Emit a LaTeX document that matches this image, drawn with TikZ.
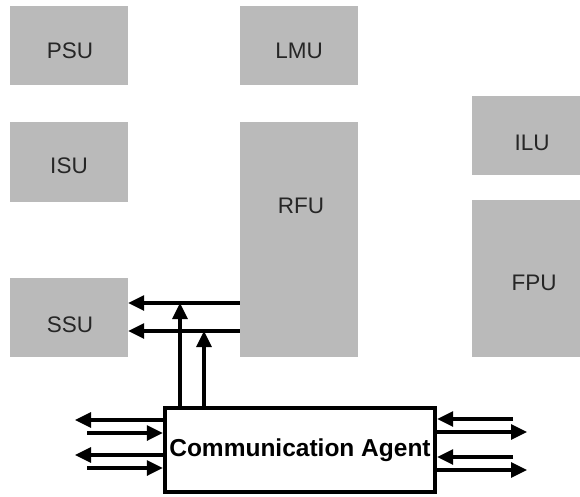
\documentclass[tikz,border=0pt]{standalone}
\usepackage{fontspec}
\setmainfont{Liberation Sans}
\usetikzlibrary{arrows.meta}
\definecolor{unitgray}{RGB}{186,186,186}
\tikzset{
  unit/.style={fill=unitgray, draw=none, inner sep=0pt},
  unitname/.style={anchor=base, inner sep=0pt, font=\fontsize{22.5}{26}\selectfont, text=black!85},
  arr/.style={line width=3.2pt, -{Triangle[length=16pt,width=15pt]}},
  agent/.style={draw=black, line width=4.4pt, fill=white, inner sep=0pt}
}
\begin{document}
\begin{tikzpicture}[x=1pt,y=-1pt]
\useasboundingbox (0,0) rectangle (580,497);
% functional units
\node[unit, minimum width=118pt, minimum height=79pt]  (PSU) at (69,45.5) {};
\node[unit, minimum width=118pt, minimum height=79pt]  (LMU) at (299,45.5) {};
\node[unit, minimum width=118pt, minimum height=80pt]  (ISU) at (69,162) {};
\node[unit, minimum width=118pt, minimum height=235pt] (RFU) at (299,239.5) {};
\node[unit, minimum width=108pt, minimum height=79pt]  (ILU) at (526,135.5) {};
\node[unit, minimum width=108pt, minimum height=157pt] (FPU) at (526,278.5) {};
\node[unit, minimum width=118pt, minimum height=79pt]  (SSU) at (69,317.5) {};
% unit names
\node[unitname] (PSUt) at (70,59)  {PSU};
\node[unitname] (LMUt) at (299,59) {LMU};
\node[unitname] (ISUt) at (69,173) {ISU};
\node[unitname] (RFUt) at (301,213) {RFU};
\node[unitname] (ILUt) at (532,150) {ILU};
\node[unitname] (FPUt) at (534,290) {FPU};
\node[unitname] (SSUt) at (70,332) {SSU};
% communication agent
\node[agent, minimum width=270pt, minimum height=84pt] (CA) at (300,450)
  {\fontsize{24.5}{28}\selectfont\bfseries Communication Agent};
% routing points
\coordinate (h1) at (0,303);
\coordinate (h2) at (0,331);
\coordinate (v1) at (180,0);
\coordinate (v2) at (204,0);
\coordinate (L1) at (75,420);
\coordinate (L2) at (87,433);
\coordinate (L3) at (75,455);
\coordinate (L4) at (87,468);
\coordinate (R1) at (513,419);
\coordinate (R2) at (527,432);
\coordinate (R3) at (513,457);
\coordinate (R4) at (527,470);
% register file to SSU
\draw[arr] (RFU.west |- h1) -- (SSU.east |- h1);
\draw[arr] (RFU.west |- h2) -- (SSU.east |- h2);
% agent up to the buses
\draw[arr] (CA.north -| v1) -- (v1 |- h1);
\draw[arr] (CA.north -| v2) -- (v2 |- h2);
% external links, left
\draw[arr] (CA.west |- L1) -- (L1);
\draw[arr] (L2) -- (CA.west |- L2);
\draw[arr] (CA.west |- L3) -- (L3);
\draw[arr] (L4) -- (CA.west |- L4);
% external links, right
\draw[arr] (R1) -- (CA.east |- R1);
\draw[arr] (CA.east |- R2) -- (R2);
\draw[arr] (R3) -- (CA.east |- R3);
\draw[arr] (CA.east |- R4) -- (R4);
\end{tikzpicture}
\end{document}
